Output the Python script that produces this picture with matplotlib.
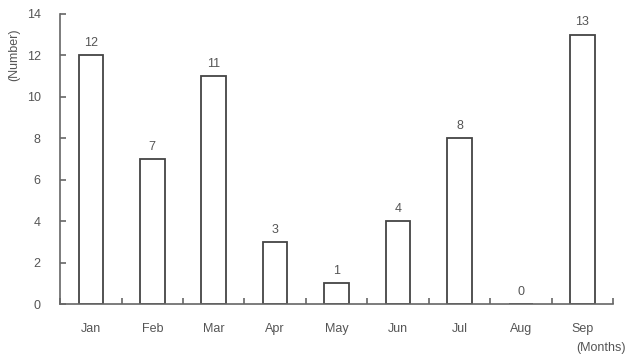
import numpy as np
import matplotlib.pyplot as plt

months = ["Jan", "Feb", "Mar", "Apr", "May", "Jun", "Jul", "Aug", "Sep"]
counts = [12, 7, 11, 3, 1, 4, 8, 0, 13]
yticks = [0, 2, 4, 6, 8, 10, 12, 14]

plt.rcParams["font.family"] = ["Liberation Sans", "DejaVu Sans"]
grey = "#555555"

fig = plt.figure(figsize=(6.4, 3.56), dpi=100)
ax = fig.add_axes([0.094, 0.146, 0.864, 0.815])

x = np.arange(len(months))
bars = ax.bar(x, counts, width=0.4, facecolor="white", edgecolor="#444444", linewidth=1.3)
for xi, c in zip(x, counts):
    ax.text(xi, c + 0.3, str(c), ha="center", va="bottom", fontsize=9, color=grey)

ax.set_xlim(-0.5, len(months) - 0.5)
ax.set_ylim(0, 14)
ax.set_yticks(yticks)
ax.set_xticks(x)
ax.set_xticklabels(months)
ax.set_xticks(np.arange(-0.5, len(months)), minor=True)

for s in ["top", "right"]:
    ax.spines[s].set_visible(False)
for s in ["left", "bottom"]:
    ax.spines[s].set_color("#666666")
    ax.spines[s].set_linewidth(1.2)

ax.tick_params(axis="x", which="major", length=0, pad=14, labelsize=9, labelcolor=grey)
ax.tick_params(axis="x", which="minor", direction="in", length=4, color="#666666", width=1.2)
ax.tick_params(axis="y", direction="in", length=4, color="#666666", width=1.2,
               pad=14, labelsize=9, labelcolor=grey)

fig.text(0.022, 0.845, "(Number)", rotation=90, ha="center", va="center", fontsize=9, color=grey)
fig.text(0.9, 0.005, "(Months)", ha="left", va="bottom", fontsize=9, color=grey)

fig.savefig("out.png", dpi=100)
